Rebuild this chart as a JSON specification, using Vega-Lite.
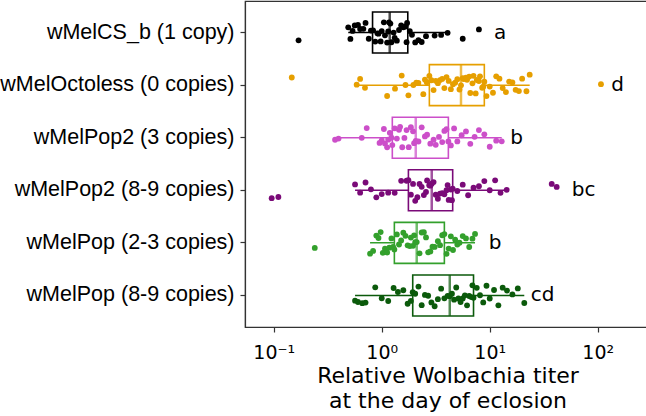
{
  "$schema": "https://vega.github.io/schema/vega-lite/v6.json",
  "width": 405,
  "height": 326,
  "autosize": {"type": "none"},
  "padding": {"left": 245, "top": 1, "right": 0, "bottom": 89},
  "background": "white",
  "config": {"view": {"stroke": "#333333", "strokeWidth": 1.2}, "font": "DejaVu Sans"},
  "datasets": {
    "titers": [
      {"strain": "wMelCS_b (1 copy)", "log10_titer": -0.77},
      {"strain": "wMelCS_b (1 copy)", "log10_titer": -0.31},
      {"strain": "wMelCS_b (1 copy)", "log10_titer": -0.29},
      {"strain": "wMelCS_b (1 copy)", "log10_titer": -0.27},
      {"strain": "wMelCS_b (1 copy)", "log10_titer": -0.25},
      {"strain": "wMelCS_b (1 copy)", "log10_titer": -0.22},
      {"strain": "wMelCS_b (1 copy)", "log10_titer": -0.2},
      {"strain": "wMelCS_b (1 copy)", "log10_titer": -0.17},
      {"strain": "wMelCS_b (1 copy)", "log10_titer": -0.15},
      {"strain": "wMelCS_b (1 copy)", "log10_titer": -0.12},
      {"strain": "wMelCS_b (1 copy)", "log10_titer": -0.1},
      {"strain": "wMelCS_b (1 copy)", "log10_titer": -0.08},
      {"strain": "wMelCS_b (1 copy)", "log10_titer": -0.06},
      {"strain": "wMelCS_b (1 copy)", "log10_titer": -0.04},
      {"strain": "wMelCS_b (1 copy)", "log10_titer": -0.03},
      {"strain": "wMelCS_b (1 copy)", "log10_titer": -0.01},
      {"strain": "wMelCS_b (1 copy)", "log10_titer": 0.0},
      {"strain": "wMelCS_b (1 copy)", "log10_titer": 0.02},
      {"strain": "wMelCS_b (1 copy)", "log10_titer": 0.03},
      {"strain": "wMelCS_b (1 copy)", "log10_titer": 0.05},
      {"strain": "wMelCS_b (1 copy)", "log10_titer": 0.06},
      {"strain": "wMelCS_b (1 copy)", "log10_titer": 0.068},
      {"strain": "wMelCS_b (1 copy)", "log10_titer": 0.08},
      {"strain": "wMelCS_b (1 copy)", "log10_titer": 0.09},
      {"strain": "wMelCS_b (1 copy)", "log10_titer": 0.11},
      {"strain": "wMelCS_b (1 copy)", "log10_titer": 0.12},
      {"strain": "wMelCS_b (1 copy)", "log10_titer": 0.14},
      {"strain": "wMelCS_b (1 copy)", "log10_titer": 0.16},
      {"strain": "wMelCS_b (1 copy)", "log10_titer": 0.18},
      {"strain": "wMelCS_b (1 copy)", "log10_titer": 0.2},
      {"strain": "wMelCS_b (1 copy)", "log10_titer": 0.22},
      {"strain": "wMelCS_b (1 copy)", "log10_titer": 0.23},
      {"strain": "wMelCS_b (1 copy)", "log10_titer": 0.235},
      {"strain": "wMelCS_b (1 copy)", "log10_titer": 0.26},
      {"strain": "wMelCS_b (1 copy)", "log10_titer": 0.28},
      {"strain": "wMelCS_b (1 copy)", "log10_titer": 0.31},
      {"strain": "wMelCS_b (1 copy)", "log10_titer": 0.34},
      {"strain": "wMelCS_b (1 copy)", "log10_titer": 0.37},
      {"strain": "wMelCS_b (1 copy)", "log10_titer": 0.41},
      {"strain": "wMelCS_b (1 copy)", "log10_titer": 0.49},
      {"strain": "wMelCS_b (1 copy)", "log10_titer": 0.55},
      {"strain": "wMelCS_b (1 copy)", "log10_titer": 0.61},
      {"strain": "wMelCS_b (1 copy)", "log10_titer": 0.75},
      {"strain": "wMelCS_b (1 copy)", "log10_titer": 0.9},

      {"strain": "wMelOctoless (0 copies)", "log10_titer": -0.833},
      {"strain": "wMelOctoless (0 copies)", "log10_titer": -0.232},
      {"strain": "wMelOctoless (0 copies)", "log10_titer": -0.2},
      {"strain": "wMelOctoless (0 copies)", "log10_titer": -0.155},
      {"strain": "wMelOctoless (0 copies)", "log10_titer": 0.05},
      {"strain": "wMelOctoless (0 copies)", "log10_titer": 0.123},
      {"strain": "wMelOctoless (0 copies)", "log10_titer": 0.185},
      {"strain": "wMelOctoless (0 copies)", "log10_titer": 0.22},
      {"strain": "wMelOctoless (0 copies)", "log10_titer": 0.247},
      {"strain": "wMelOctoless (0 copies)", "log10_titer": 0.293},
      {"strain": "wMelOctoless (0 copies)", "log10_titer": 0.32},
      {"strain": "wMelOctoless (0 copies)", "log10_titer": 0.339},
      {"strain": "wMelOctoless (0 copies)", "log10_titer": 0.385},
      {"strain": "wMelOctoless (0 copies)", "log10_titer": 0.4},
      {"strain": "wMelOctoless (0 copies)", "log10_titer": 0.417},
      {"strain": "wMelOctoless (0 copies)", "log10_titer": 0.441},
      {"strain": "wMelOctoless (0 copies)", "log10_titer": 0.46},
      {"strain": "wMelOctoless (0 copies)", "log10_titer": 0.48},
      {"strain": "wMelOctoless (0 copies)", "log10_titer": 0.5},
      {"strain": "wMelOctoless (0 copies)", "log10_titer": 0.52},
      {"strain": "wMelOctoless (0 copies)", "log10_titer": 0.54},
      {"strain": "wMelOctoless (0 copies)", "log10_titer": 0.56},
      {"strain": "wMelOctoless (0 copies)", "log10_titer": 0.58},
      {"strain": "wMelOctoless (0 copies)", "log10_titer": 0.6},
      {"strain": "wMelOctoless (0 copies)", "log10_titer": 0.62},
      {"strain": "wMelOctoless (0 copies)", "log10_titer": 0.64},
      {"strain": "wMelOctoless (0 copies)", "log10_titer": 0.66},
      {"strain": "wMelOctoless (0 copies)", "log10_titer": 0.68},
      {"strain": "wMelOctoless (0 copies)", "log10_titer": 0.7},
      {"strain": "wMelOctoless (0 copies)", "log10_titer": 0.72},
      {"strain": "wMelOctoless (0 copies)", "log10_titer": 0.734},
      {"strain": "wMelOctoless (0 copies)", "log10_titer": 0.75},
      {"strain": "wMelOctoless (0 copies)", "log10_titer": 0.76},
      {"strain": "wMelOctoless (0 copies)", "log10_titer": 0.78},
      {"strain": "wMelOctoless (0 copies)", "log10_titer": 0.79},
      {"strain": "wMelOctoless (0 copies)", "log10_titer": 0.81},
      {"strain": "wMelOctoless (0 copies)", "log10_titer": 0.82},
      {"strain": "wMelOctoless (0 copies)", "log10_titer": 0.84},
      {"strain": "wMelOctoless (0 copies)", "log10_titer": 0.85},
      {"strain": "wMelOctoless (0 copies)", "log10_titer": 0.87},
      {"strain": "wMelOctoless (0 copies)", "log10_titer": 0.88},
      {"strain": "wMelOctoless (0 copies)", "log10_titer": 0.9},
      {"strain": "wMelOctoless (0 copies)", "log10_titer": 0.91},
      {"strain": "wMelOctoless (0 copies)", "log10_titer": 0.93},
      {"strain": "wMelOctoless (0 copies)", "log10_titer": 0.94},
      {"strain": "wMelOctoless (0 copies)", "log10_titer": 0.95},
      {"strain": "wMelOctoless (0 copies)", "log10_titer": 0.97},
      {"strain": "wMelOctoless (0 copies)", "log10_titer": 1.0},
      {"strain": "wMelOctoless (0 copies)", "log10_titer": 1.03},
      {"strain": "wMelOctoless (0 copies)", "log10_titer": 1.06},
      {"strain": "wMelOctoless (0 copies)", "log10_titer": 1.09},
      {"strain": "wMelOctoless (0 copies)", "log10_titer": 1.12},
      {"strain": "wMelOctoless (0 copies)", "log10_titer": 1.15},
      {"strain": "wMelOctoless (0 copies)", "log10_titer": 1.18},
      {"strain": "wMelOctoless (0 copies)", "log10_titer": 1.21},
      {"strain": "wMelOctoless (0 copies)", "log10_titer": 1.24},
      {"strain": "wMelOctoless (0 copies)", "log10_titer": 1.27},
      {"strain": "wMelOctoless (0 copies)", "log10_titer": 1.3},
      {"strain": "wMelOctoless (0 copies)", "log10_titer": 1.34},
      {"strain": "wMelOctoless (0 copies)", "log10_titer": 1.37},
      {"strain": "wMelOctoless (0 copies)", "log10_titer": 2.03},

      {"strain": "wMelPop2 (3 copies)", "log10_titer": -0.432},
      {"strain": "wMelPop2 (3 copies)", "log10_titer": -0.4},
      {"strain": "wMelPop2 (3 copies)", "log10_titer": -0.185},
      {"strain": "wMelPop2 (3 copies)", "log10_titer": -0.139},
      {"strain": "wMelPop2 (3 copies)", "log10_titer": -0.02},
      {"strain": "wMelPop2 (3 copies)", "log10_titer": 0.0},
      {"strain": "wMelPop2 (3 copies)", "log10_titer": 0.02},
      {"strain": "wMelPop2 (3 copies)", "log10_titer": 0.03},
      {"strain": "wMelPop2 (3 copies)", "log10_titer": 0.05},
      {"strain": "wMelPop2 (3 copies)", "log10_titer": 0.06},
      {"strain": "wMelPop2 (3 copies)", "log10_titer": 0.075},
      {"strain": "wMelPop2 (3 copies)", "log10_titer": 0.09},
      {"strain": "wMelPop2 (3 copies)", "log10_titer": 0.098},
      {"strain": "wMelPop2 (3 copies)", "log10_titer": 0.12},
      {"strain": "wMelPop2 (3 copies)", "log10_titer": 0.14},
      {"strain": "wMelPop2 (3 copies)", "log10_titer": 0.16},
      {"strain": "wMelPop2 (3 copies)", "log10_titer": 0.17},
      {"strain": "wMelPop2 (3 copies)", "log10_titer": 0.19},
      {"strain": "wMelPop2 (3 copies)", "log10_titer": 0.21},
      {"strain": "wMelPop2 (3 copies)", "log10_titer": 0.23},
      {"strain": "wMelPop2 (3 copies)", "log10_titer": 0.25},
      {"strain": "wMelPop2 (3 copies)", "log10_titer": 0.27},
      {"strain": "wMelPop2 (3 copies)", "log10_titer": 0.29},
      {"strain": "wMelPop2 (3 copies)", "log10_titer": 0.3},
      {"strain": "wMelPop2 (3 copies)", "log10_titer": 0.315},
      {"strain": "wMelPop2 (3 copies)", "log10_titer": 0.34},
      {"strain": "wMelPop2 (3 copies)", "log10_titer": 0.37},
      {"strain": "wMelPop2 (3 copies)", "log10_titer": 0.4},
      {"strain": "wMelPop2 (3 copies)", "log10_titer": 0.42},
      {"strain": "wMelPop2 (3 copies)", "log10_titer": 0.45},
      {"strain": "wMelPop2 (3 copies)", "log10_titer": 0.48},
      {"strain": "wMelPop2 (3 copies)", "log10_titer": 0.5},
      {"strain": "wMelPop2 (3 copies)", "log10_titer": 0.53},
      {"strain": "wMelPop2 (3 copies)", "log10_titer": 0.56},
      {"strain": "wMelPop2 (3 copies)", "log10_titer": 0.58},
      {"strain": "wMelPop2 (3 copies)", "log10_titer": 0.6},
      {"strain": "wMelPop2 (3 copies)", "log10_titer": 0.617},
      {"strain": "wMelPop2 (3 copies)", "log10_titer": 0.64},
      {"strain": "wMelPop2 (3 copies)", "log10_titer": 0.67},
      {"strain": "wMelPop2 (3 copies)", "log10_titer": 0.7},
      {"strain": "wMelPop2 (3 copies)", "log10_titer": 0.74},
      {"strain": "wMelPop2 (3 copies)", "log10_titer": 0.78},
      {"strain": "wMelPop2 (3 copies)", "log10_titer": 0.82},
      {"strain": "wMelPop2 (3 copies)", "log10_titer": 0.86},
      {"strain": "wMelPop2 (3 copies)", "log10_titer": 0.9},
      {"strain": "wMelPop2 (3 copies)", "log10_titer": 0.95},
      {"strain": "wMelPop2 (3 copies)", "log10_titer": 1.0},
      {"strain": "wMelPop2 (3 copies)", "log10_titer": 1.06},
      {"strain": "wMelPop2 (3 copies)", "log10_titer": 1.111},

      {"strain": "wMelPop2 (8-9 copies)", "log10_titer": -1.019},
      {"strain": "wMelPop2 (8-9 copies)", "log10_titer": -0.957},
      {"strain": "wMelPop2 (8-9 copies)", "log10_titer": -0.247},
      {"strain": "wMelPop2 (8-9 copies)", "log10_titer": -0.2},
      {"strain": "wMelPop2 (8-9 copies)", "log10_titer": -0.15},
      {"strain": "wMelPop2 (8-9 copies)", "log10_titer": -0.1},
      {"strain": "wMelPop2 (8-9 copies)", "log10_titer": -0.05},
      {"strain": "wMelPop2 (8-9 copies)", "log10_titer": 0.0},
      {"strain": "wMelPop2 (8-9 copies)", "log10_titer": 0.06},
      {"strain": "wMelPop2 (8-9 copies)", "log10_titer": 0.12},
      {"strain": "wMelPop2 (8-9 copies)", "log10_titer": 0.18},
      {"strain": "wMelPop2 (8-9 copies)", "log10_titer": 0.23},
      {"strain": "wMelPop2 (8-9 copies)", "log10_titer": 0.247},
      {"strain": "wMelPop2 (8-9 copies)", "log10_titer": 0.27},
      {"strain": "wMelPop2 (8-9 copies)", "log10_titer": 0.29},
      {"strain": "wMelPop2 (8-9 copies)", "log10_titer": 0.31},
      {"strain": "wMelPop2 (8-9 copies)", "log10_titer": 0.33},
      {"strain": "wMelPop2 (8-9 copies)", "log10_titer": 0.35},
      {"strain": "wMelPop2 (8-9 copies)", "log10_titer": 0.37},
      {"strain": "wMelPop2 (8-9 copies)", "log10_titer": 0.39},
      {"strain": "wMelPop2 (8-9 copies)", "log10_titer": 0.41},
      {"strain": "wMelPop2 (8-9 copies)", "log10_titer": 0.42},
      {"strain": "wMelPop2 (8-9 copies)", "log10_titer": 0.44},
      {"strain": "wMelPop2 (8-9 copies)", "log10_titer": 0.45},
      {"strain": "wMelPop2 (8-9 copies)", "log10_titer": 0.463},
      {"strain": "wMelPop2 (8-9 copies)", "log10_titer": 0.48},
      {"strain": "wMelPop2 (8-9 copies)", "log10_titer": 0.5},
      {"strain": "wMelPop2 (8-9 copies)", "log10_titer": 0.52},
      {"strain": "wMelPop2 (8-9 copies)", "log10_titer": 0.54},
      {"strain": "wMelPop2 (8-9 copies)", "log10_titer": 0.56},
      {"strain": "wMelPop2 (8-9 copies)", "log10_titer": 0.58},
      {"strain": "wMelPop2 (8-9 copies)", "log10_titer": 0.6},
      {"strain": "wMelPop2 (8-9 copies)", "log10_titer": 0.61},
      {"strain": "wMelPop2 (8-9 copies)", "log10_titer": 0.62},
      {"strain": "wMelPop2 (8-9 copies)", "log10_titer": 0.64},
      {"strain": "wMelPop2 (8-9 copies)", "log10_titer": 0.65},
      {"strain": "wMelPop2 (8-9 copies)", "log10_titer": 0.657},
      {"strain": "wMelPop2 (8-9 copies)", "log10_titer": 0.7},
      {"strain": "wMelPop2 (8-9 copies)", "log10_titer": 0.75},
      {"strain": "wMelPop2 (8-9 copies)", "log10_titer": 0.8},
      {"strain": "wMelPop2 (8-9 copies)", "log10_titer": 0.85},
      {"strain": "wMelPop2 (8-9 copies)", "log10_titer": 0.9},
      {"strain": "wMelPop2 (8-9 copies)", "log10_titer": 0.95},
      {"strain": "wMelPop2 (8-9 copies)", "log10_titer": 1.0},
      {"strain": "wMelPop2 (8-9 copies)", "log10_titer": 1.05},
      {"strain": "wMelPop2 (8-9 copies)", "log10_titer": 1.1},
      {"strain": "wMelPop2 (8-9 copies)", "log10_titer": 1.157},
      {"strain": "wMelPop2 (8-9 copies)", "log10_titer": 1.574},
      {"strain": "wMelPop2 (8-9 copies)", "log10_titer": 1.62},

      {"strain": "wMelPop (2-3 copies)", "log10_titer": -0.62},
      {"strain": "wMelPop (2-3 copies)", "log10_titer": -0.108},
      {"strain": "wMelPop (2-3 copies)", "log10_titer": -0.08},
      {"strain": "wMelPop (2-3 copies)", "log10_titer": -0.05},
      {"strain": "wMelPop (2-3 copies)", "log10_titer": -0.03},
      {"strain": "wMelPop (2-3 copies)", "log10_titer": -0.01},
      {"strain": "wMelPop (2-3 copies)", "log10_titer": 0.01},
      {"strain": "wMelPop (2-3 copies)", "log10_titer": 0.03},
      {"strain": "wMelPop (2-3 copies)", "log10_titer": 0.05},
      {"strain": "wMelPop (2-3 copies)", "log10_titer": 0.07},
      {"strain": "wMelPop (2-3 copies)", "log10_titer": 0.09},
      {"strain": "wMelPop (2-3 copies)", "log10_titer": 0.105},
      {"strain": "wMelPop (2-3 copies)", "log10_titer": 0.117},
      {"strain": "wMelPop (2-3 copies)", "log10_titer": 0.14},
      {"strain": "wMelPop (2-3 copies)", "log10_titer": 0.16},
      {"strain": "wMelPop (2-3 copies)", "log10_titer": 0.18},
      {"strain": "wMelPop (2-3 copies)", "log10_titer": 0.2},
      {"strain": "wMelPop (2-3 copies)", "log10_titer": 0.22},
      {"strain": "wMelPop (2-3 copies)", "log10_titer": 0.24},
      {"strain": "wMelPop (2-3 copies)", "log10_titer": 0.26},
      {"strain": "wMelPop (2-3 copies)", "log10_titer": 0.27},
      {"strain": "wMelPop (2-3 copies)", "log10_titer": 0.29},
      {"strain": "wMelPop (2-3 copies)", "log10_titer": 0.3},
      {"strain": "wMelPop (2-3 copies)", "log10_titer": 0.31},
      {"strain": "wMelPop (2-3 copies)", "log10_titer": 0.324},
      {"strain": "wMelPop (2-3 copies)", "log10_titer": 0.35},
      {"strain": "wMelPop (2-3 copies)", "log10_titer": 0.37},
      {"strain": "wMelPop (2-3 copies)", "log10_titer": 0.39},
      {"strain": "wMelPop (2-3 copies)", "log10_titer": 0.41},
      {"strain": "wMelPop (2-3 copies)", "log10_titer": 0.43},
      {"strain": "wMelPop (2-3 copies)", "log10_titer": 0.45},
      {"strain": "wMelPop (2-3 copies)", "log10_titer": 0.47},
      {"strain": "wMelPop (2-3 copies)", "log10_titer": 0.49},
      {"strain": "wMelPop (2-3 copies)", "log10_titer": 0.52},
      {"strain": "wMelPop (2-3 copies)", "log10_titer": 0.54},
      {"strain": "wMelPop (2-3 copies)", "log10_titer": 0.56},
      {"strain": "wMelPop (2-3 copies)", "log10_titer": 0.58},
      {"strain": "wMelPop (2-3 copies)", "log10_titer": 0.6},
      {"strain": "wMelPop (2-3 copies)", "log10_titer": 0.62},
      {"strain": "wMelPop (2-3 copies)", "log10_titer": 0.64},
      {"strain": "wMelPop (2-3 copies)", "log10_titer": 0.66},
      {"strain": "wMelPop (2-3 copies)", "log10_titer": 0.68},
      {"strain": "wMelPop (2-3 copies)", "log10_titer": 0.7},
      {"strain": "wMelPop (2-3 copies)", "log10_titer": 0.72},
      {"strain": "wMelPop (2-3 copies)", "log10_titer": 0.75},
      {"strain": "wMelPop (2-3 copies)", "log10_titer": 0.78},
      {"strain": "wMelPop (2-3 copies)", "log10_titer": 0.81},
      {"strain": "wMelPop (2-3 copies)", "log10_titer": 0.84},
      {"strain": "wMelPop (2-3 copies)", "log10_titer": 0.864},

      {"strain": "wMelPop (8-9 copies)", "log10_titer": -0.247},
      {"strain": "wMelPop (8-9 copies)", "log10_titer": -0.22},
      {"strain": "wMelPop (8-9 copies)", "log10_titer": -0.18},
      {"strain": "wMelPop (8-9 copies)", "log10_titer": -0.15},
      {"strain": "wMelPop (8-9 copies)", "log10_titer": -0.06},
      {"strain": "wMelPop (8-9 copies)", "log10_titer": 0.0},
      {"strain": "wMelPop (8-9 copies)", "log10_titer": 0.06},
      {"strain": "wMelPop (8-9 copies)", "log10_titer": 0.11},
      {"strain": "wMelPop (8-9 copies)", "log10_titer": 0.15},
      {"strain": "wMelPop (8-9 copies)", "log10_titer": 0.2},
      {"strain": "wMelPop (8-9 copies)", "log10_titer": 0.24},
      {"strain": "wMelPop (8-9 copies)", "log10_titer": 0.27},
      {"strain": "wMelPop (8-9 copies)", "log10_titer": 0.287},
      {"strain": "wMelPop (8-9 copies)", "log10_titer": 0.31},
      {"strain": "wMelPop (8-9 copies)", "log10_titer": 0.34},
      {"strain": "wMelPop (8-9 copies)", "log10_titer": 0.37},
      {"strain": "wMelPop (8-9 copies)", "log10_titer": 0.4},
      {"strain": "wMelPop (8-9 copies)", "log10_titer": 0.43},
      {"strain": "wMelPop (8-9 copies)", "log10_titer": 0.46},
      {"strain": "wMelPop (8-9 copies)", "log10_titer": 0.49},
      {"strain": "wMelPop (8-9 copies)", "log10_titer": 0.52},
      {"strain": "wMelPop (8-9 copies)", "log10_titer": 0.55},
      {"strain": "wMelPop (8-9 copies)", "log10_titer": 0.58},
      {"strain": "wMelPop (8-9 copies)", "log10_titer": 0.61},
      {"strain": "wMelPop (8-9 copies)", "log10_titer": 0.63},
      {"strain": "wMelPop (8-9 copies)", "log10_titer": 0.65},
      {"strain": "wMelPop (8-9 copies)", "log10_titer": 0.67},
      {"strain": "wMelPop (8-9 copies)", "log10_titer": 0.69},
      {"strain": "wMelPop (8-9 copies)", "log10_titer": 0.71},
      {"strain": "wMelPop (8-9 copies)", "log10_titer": 0.73},
      {"strain": "wMelPop (8-9 copies)", "log10_titer": 0.75},
      {"strain": "wMelPop (8-9 copies)", "log10_titer": 0.77},
      {"strain": "wMelPop (8-9 copies)", "log10_titer": 0.79},
      {"strain": "wMelPop (8-9 copies)", "log10_titer": 0.81},
      {"strain": "wMelPop (8-9 copies)", "log10_titer": 0.83},
      {"strain": "wMelPop (8-9 copies)", "log10_titer": 0.84},
      {"strain": "wMelPop (8-9 copies)", "log10_titer": 0.85},
      {"strain": "wMelPop (8-9 copies)", "log10_titer": 0.88},
      {"strain": "wMelPop (8-9 copies)", "log10_titer": 0.91},
      {"strain": "wMelPop (8-9 copies)", "log10_titer": 0.94},
      {"strain": "wMelPop (8-9 copies)", "log10_titer": 0.97},
      {"strain": "wMelPop (8-9 copies)", "log10_titer": 1.0},
      {"strain": "wMelPop (8-9 copies)", "log10_titer": 1.04},
      {"strain": "wMelPop (8-9 copies)", "log10_titer": 1.08},
      {"strain": "wMelPop (8-9 copies)", "log10_titer": 1.12},
      {"strain": "wMelPop (8-9 copies)", "log10_titer": 1.16},
      {"strain": "wMelPop (8-9 copies)", "log10_titer": 1.21},
      {"strain": "wMelPop (8-9 copies)", "log10_titer": 1.26},
      {"strain": "wMelPop (8-9 copies)", "log10_titer": 1.32}
    ],
    "letters": [
      {"strain": "wMelCS_b (1 copy)", "label": "a", "log10_pos": 1.04},
      {"strain": "wMelOctoless (0 copies)", "label": "d", "log10_pos": 2.125},
      {"strain": "wMelPop2 (3 copies)", "label": "b", "log10_pos": 1.19},
      {"strain": "wMelPop2 (8-9 copies)", "label": "bc", "log10_pos": 1.76},
      {"strain": "wMelPop (2-3 copies)", "label": "b", "log10_pos": 0.99},
      {"strain": "wMelPop (8-9 copies)", "label": "cd", "log10_pos": 1.38}
    ]
  },
  "encoding": {
    "y": {
      "field": "strain", "type": "nominal",
      "sort": ["wMelCS_b (1 copy)", "wMelOctoless (0 copies)", "wMelPop2 (3 copies)", "wMelPop2 (8-9 copies)", "wMelPop (2-3 copies)", "wMelPop (8-9 copies)"],
      "scale": {"paddingInner": 0, "paddingOuter": 0.1},
      "title": null,
      "axis": {"labelFont": "Liberation Sans", "labelFontSize": 21.5, "labelColor": "black", "labelLimit": 300, "labelPadding": 6, "tickSize": 5, "tickColor": "#333333", "tickWidth": 1.2, "domainColor": "#333333", "domainWidth": 1.2}
    },
    "color": {
      "field": "strain", "type": "nominal", "legend": null,
      "scale": {
        "domain": ["wMelCS_b (1 copy)", "wMelOctoless (0 copies)", "wMelPop2 (3 copies)", "wMelPop2 (8-9 copies)", "wMelPop (2-3 copies)", "wMelPop (8-9 copies)"],
        "range": ["#000000", "#E69F00", "#CC4FC9", "#7A0A78", "#33A02C", "#0B5A0B"]
      }
    }
  },
  "layer": [
    {
      "data": {"name": "titers"},
      "transform": [
        {"joinaggregate": [
          {"op": "q1", "field": "log10_titer", "as": "q1"},
          {"op": "median", "field": "log10_titer", "as": "med"},
          {"op": "q3", "field": "log10_titer", "as": "q3"}
        ], "groupby": ["strain"]},
        {"filter": "datum.log10_titer >= datum.q1 - 1.5 * (datum.q3 - datum.q1) && datum.log10_titer <= datum.q3 + 1.5 * (datum.q3 - datum.q1)"},
        {"aggregate": [
          {"op": "min", "field": "log10_titer", "as": "whisker_lo"},
          {"op": "max", "field": "log10_titer", "as": "whisker_hi"}
        ], "groupby": ["strain", "q1", "med", "q3"]}
      ],
      "layer": [
        {
          "mark": {"type": "rule", "strokeWidth": 1.5},
          "encoding": {
            "x": {"field": "whisker_lo", "type": "quantitative",
              "title": ["Relative Wolbachia titer", "at the day of eclosion"],
              "scale": {"domain": [-1.266, 2.484], "nice": false, "zero": false},
              "axis": {"values": [-1, 0, 1, 2], "labelExpr": "datum.value == -1 ? '10⁻¹' : datum.value == 0 ? '10⁰' : datum.value == 1 ? '10¹' : '10²'", "labelFont": "DejaVu Sans", "labelFontSize": 19, "labelColor": "black", "labelPadding": 11, "tickSize": 5, "tickColor": "#333333", "tickWidth": 1.2, "domainColor": "#333333", "domainWidth": 1.2, "grid": false, "titleFont": "DejaVu Sans", "titleFontSize": 22, "titleFontWeight": "normal", "titleColor": "black", "titlePadding": 3, "titleLineHeight": 25}
            },
            "x2": {"field": "whisker_hi"}
          }
        },
        {
          "mark": {"type": "bar", "fill": "white", "strokeWidth": 1.6, "size": 41},
          "encoding": {
            "x": {"field": "q1", "type": "quantitative", "title": ["Relative Wolbachia titer", "at the day of eclosion"]},
            "x2": {"field": "q3"},
            "stroke": {"field": "strain", "type": "nominal", "legend": null, "scale": {"domain": ["wMelCS_b (1 copy)", "wMelOctoless (0 copies)", "wMelPop2 (3 copies)", "wMelPop2 (8-9 copies)", "wMelPop (2-3 copies)", "wMelPop (8-9 copies)"], "range": ["#000000", "#E69F00", "#CC4FC9", "#7A0A78", "#33A02C", "#0B5A0B"]}},
            "color": {"value": null}
          }
        },
        {
          "mark": {"type": "tick", "orient": "vertical", "thickness": 2.5, "size": 41},
          "encoding": {
            "x": {"field": "med", "type": "quantitative", "title": ["Relative Wolbachia titer", "at the day of eclosion"]}
          }
        }
      ]
    },
    {
      "data": {"name": "titers"},
      "transform": [
        {"window": [{"op": "row_number", "as": "rn"}], "groupby": ["strain"]},
        {"calculate": "(abs(sin(datum.rn * 12.9898 + datum.log10_titer * 78.233) * 43758.5453) % 1) - 0.5", "as": "jit"}
      ],
      "mark": {"type": "circle", "size": 34, "opacity": 1},
      "encoding": {
        "x": {"field": "log10_titer", "type": "quantitative", "title": ["Relative Wolbachia titer", "at the day of eclosion"]},
        "yOffset": {"field": "jit", "type": "quantitative", "scale": {"domain": [-0.5, 0.5], "range": [15.3, 37.3]}}
      }
    },
    {
      "data": {"name": "letters"},
      "mark": {"type": "text", "align": "left", "baseline": "middle", "font": "DejaVu Sans", "fontSize": 20},
      "encoding": {
        "x": {"field": "log10_pos", "type": "quantitative", "title": ["Relative Wolbachia titer", "at the day of eclosion"]},
        "text": {"field": "label"},
        "color": {"value": "black"}
      }
    }
  ]
}
